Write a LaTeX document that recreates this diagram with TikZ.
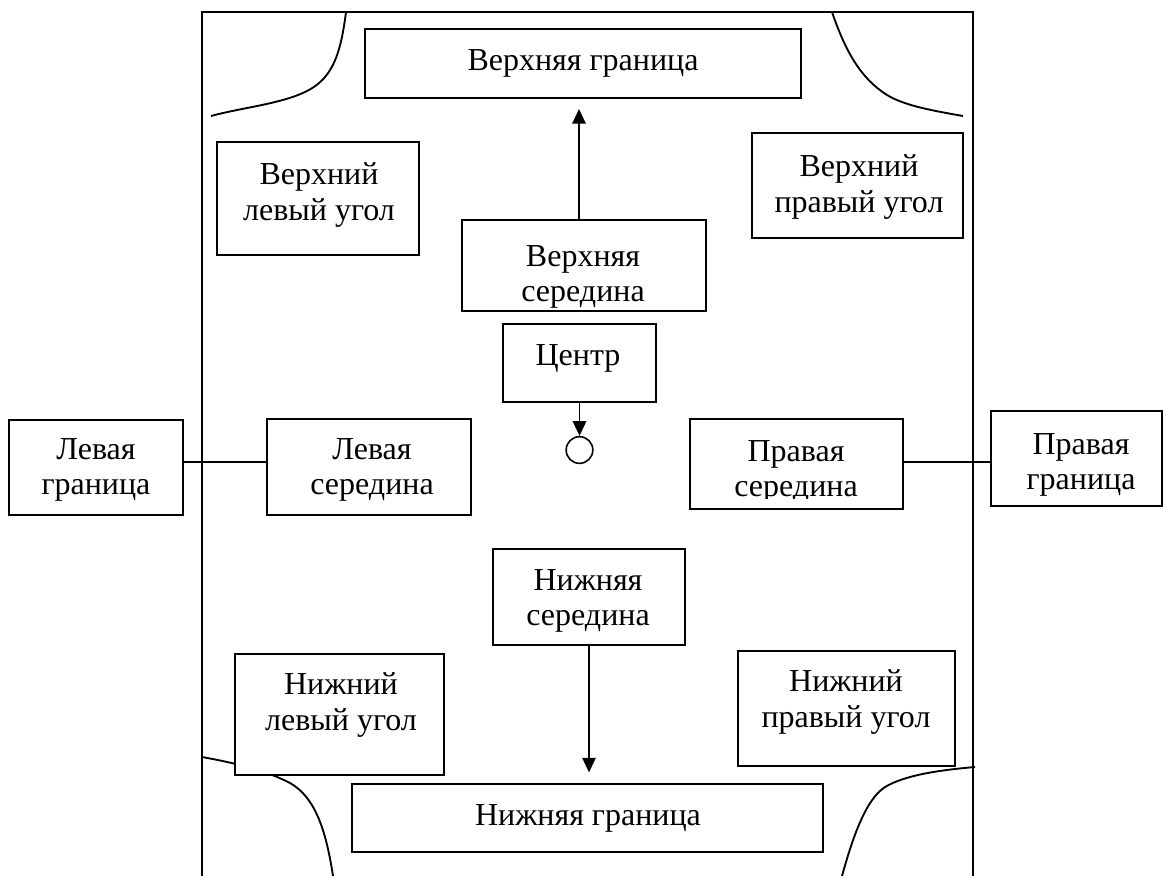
\documentclass[tikz,border=0pt]{standalone}
\usepackage{fontspec}
\setmainfont{Liberation Serif}
\usetikzlibrary{arrows.meta,fit}
\begin{document}
\begin{tikzpicture}[x=0.75pt,y=-0.75pt,
  line width=1.4pt,
  frame/.style={draw, fill=white, inner sep=0pt},
  txt/.style={align=center, inner sep=0pt, font=\fontsize{24pt}{26.5pt}\selectfont},
  arr/.style={-{Triangle[length=11pt,width=10pt]}}]
\useasboundingbox (0,0) rectangle (1166,876);

% page frame, open at the bottom
\draw (202,876) -- (202,12) -- (973,12) -- (973,876);

% corner curves
\draw (346,12) .. controls (340,60) and (330,80) .. (305,92)
      .. controls (280,104) and (240,108) .. (211,116);
\draw (832,12) .. controls (845,50) and (860,78) .. (887,95)
      .. controls (905,106) and (935,111) .. (963,116);
\draw (202,757) .. controls (235,763) and (265,770) .. (290,783)
      .. controls (315,797) and (326,830) .. (333,876);
\draw (975,767) .. controls (940,770) and (905,775) .. (885,787)
      .. controls (865,800) and (852,840) .. (842,876);

% boxes
\node[frame, fit={(365,29) (801,98)}]   (vgb) {};
\node[frame, fit={(217,142) (419,255)}] (tlb) {};
\node[frame, fit={(752,133) (963,238)}] (trb) {};
\node[frame, fit={(462,220) (706,311)}] (vmb) {};
\node[frame, fit={(503,324) (656,402)}] (cb)  {};
\node[frame, fit={(9,420) (183,515)}]   (lgb) {};
\node[frame, fit={(267,419) (471,515)}] (lmb) {};
\node[frame, fit={(690,419) (903,509)}] (rmb) {};
\node[frame, fit={(991,411) (1162,506)}] (rgb) {};
\node[frame, fit={(493,549) (685,645)}] (nmb) {};
\node[frame, fit={(235,654) (444,775)}] (blb) {};
\node[frame, fit={(738,651) (955,766)}] (brb) {};
\node[frame, fit={(352,784) (823,852)}] (ngb) {};

% texts
\node[txt] (vgt) at (583,63)  {Верхняя граница};
\node[txt] (tlt) at (319,195) {Верхний\\левый угол};
\node[txt] (trt) at (859,187) {Верхний\\правый угол};
\node[txt] (vmt) at (583,277) {Верхняя\\середина};
\node[txt] (ct)  at (578,358) {Центр};
\node[txt] (lgt) at (96,470)  {Левая\\граница};
\node[txt] (lmt) at (372,470) {Левая\\середина};
\begin{scope}
  \clip (690,419) rectangle (903,498);
  \node[txt] (rmt) at (796,472) {Правая\\середина};
\end{scope}
\node[txt] (rgt) at (1081,465) {Правая\\граница};
\node[txt] (nmt) at (588,601) {Нижняя\\середина};
\node[txt] (blt) at (341,705) {Нижний\\левый угол};
\node[txt] (brt) at (846,702) {Нижний\\правый угол};
\node[txt] (ngt) at (588,818) {Нижняя граница};

% centre marker
\node[draw, circle, minimum size=20pt, inner sep=0pt, line width=1.2pt] (o) at (579.5,450) {};

% connectors
\draw ([yshift=4pt]lgb.east) -- ([yshift=4pt]lgb.east -| lmb.west);
\draw ([yshift=1.5pt]rmb.east) -- ([yshift=1.5pt]rmb.east -| rgb.west);
\draw[arr, shorten >=7.5pt] ([xshift=-3.75pt]vmb.north) -- ([xshift=-3.75pt]vmb.north |- vgb.south);
\draw[arr] (cb.south) -- (o.north);
\draw[arr, shorten >=8pt] (nmb.south) -- (nmb.south |- ngb.north);
\end{tikzpicture}
\end{document}
